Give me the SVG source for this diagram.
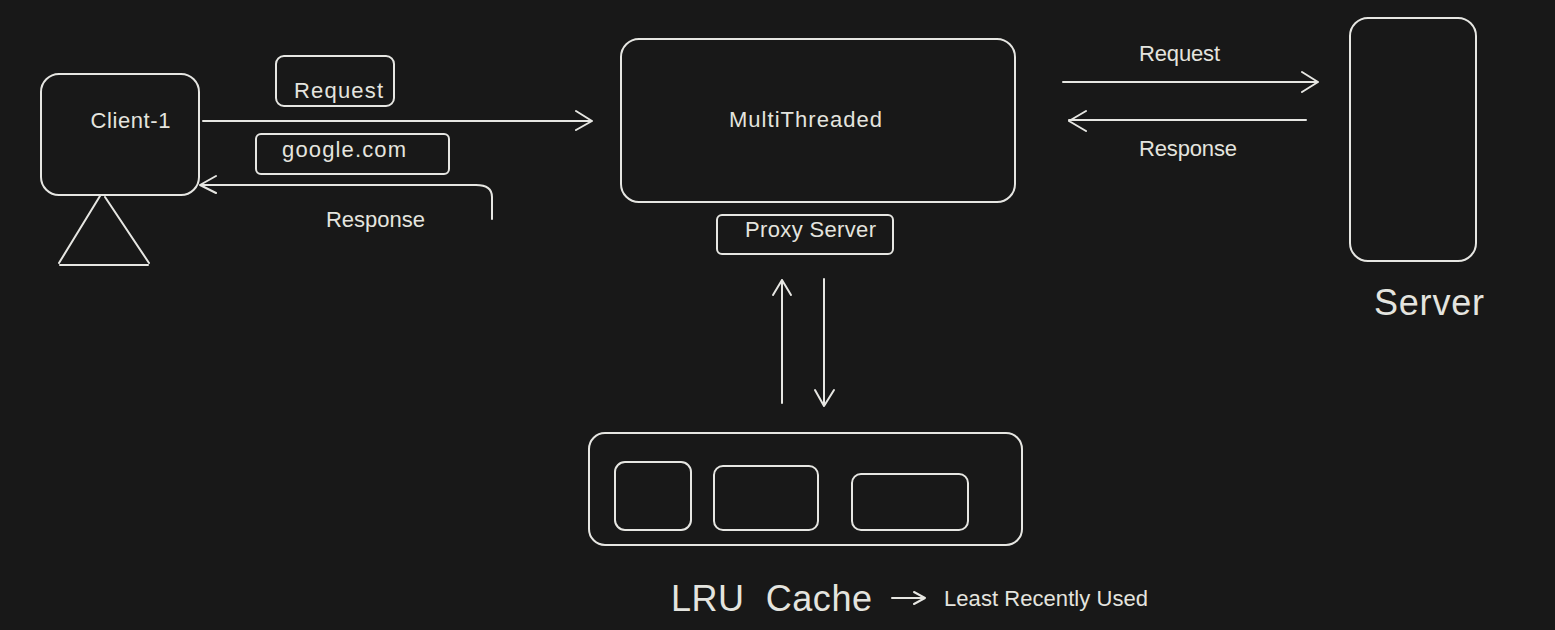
<svg xmlns="http://www.w3.org/2000/svg" width="1555" height="630" viewBox="0 0 1555 630">
<style>
.s{fill:none;stroke:#e6e6e2;stroke-width:2;stroke-linecap:round;stroke-linejoin:round}
.t{fill:#e4e4df;font-family:"Liberation Sans",Arial,sans-serif;font-size:22px}
</style>
<rect width="1555" height="630" fill="#181818"/>
<g id="client"><rect class="s" x="41" y="74" width="158" height="121" rx="18"/><text class="t" x="90.500" y="128" textLength="80">Client-1</text></g>
<g id="stand"><path class="s" d="M100 196 L59 263 M105 197 L149 263 M60 265 H148"/></g>
<g id="request-box"><rect class="s" x="276" y="56" width="118" height="50" rx="8"/><text class="t" x="294" y="98" textLength="89">Request</text></g>
<g id="url-box"><rect class="s" x="256" y="134" width="193" height="40" rx="5"/><text class="t" x="282" y="157" textLength="124">google.com</text></g>
<g id="response-label"><text class="t" x="326" y="227" textLength="99">Response</text></g>
<g id="proxy"><rect class="s" x="621" y="39" width="394" height="163" rx="18"/><text class="t" x="729" y="127" textLength="153">MultiThreaded</text></g>
<g id="proxy-label"><rect class="s" x="717" y="215" width="176" height="39" rx="5"/><text class="t" x="745" y="237" textLength="131">Proxy Server</text></g>
<g id="server"><rect class="s" x="1350" y="18" width="126" height="243" rx="18"/><text class="t" x="1374" y="315" font-size="36" textLength="110" style="font-size:36px">Server</text></g>
<g id="request-label"><text class="t" x="1139" y="61" textLength="81">Request</text></g>
<g id="response-label-2"><text class="t" x="1139" y="156" textLength="98">Response</text></g>
<g id="cache"><rect class="s" x="589" y="433" width="433" height="112" rx="16"/></g>
<g id="cache-1"><rect class="s" x="615" y="462" width="76" height="68" rx="10"/></g>
<g id="cache-2"><rect class="s" x="714" y="466" width="104" height="64" rx="9"/></g>
<g id="cache-3"><rect class="s" x="852" y="474" width="116" height="56" rx="9"/></g>
<g id="cache-label"><text class="t" x="671" y="611" textLength="201" style="font-size:36px" xml:space="preserve">LRU  Cache</text></g>
<g id="lru-note"><text class="t" x="944" y="606" textLength="204">Least Recently Used</text></g>
<g id="connectors">
<path class="s" d="M203 121 H591 M576 111 L592 121 L576 130"/>
<path class="s" d="M492 219 V197 Q492 185 476 185 H200 M216 176 L200 185 L216 193"/>
<path class="s" d="M1063 82 H1318 M1302 72 L1318 82 L1302 92"/>
<path class="s" d="M1306 120 H1069 M1086 111 L1069 121 L1086 131"/>
<path class="s" d="M782 403 V280 M773 295 L782 280 L791 295"/>
<path class="s" d="M824 279 V405 M815 390 L824 406 L834 390"/>
<path class="s" d="M892 598 H925 M914 592 L925 598 L914 604"/>
</g>
</svg>
